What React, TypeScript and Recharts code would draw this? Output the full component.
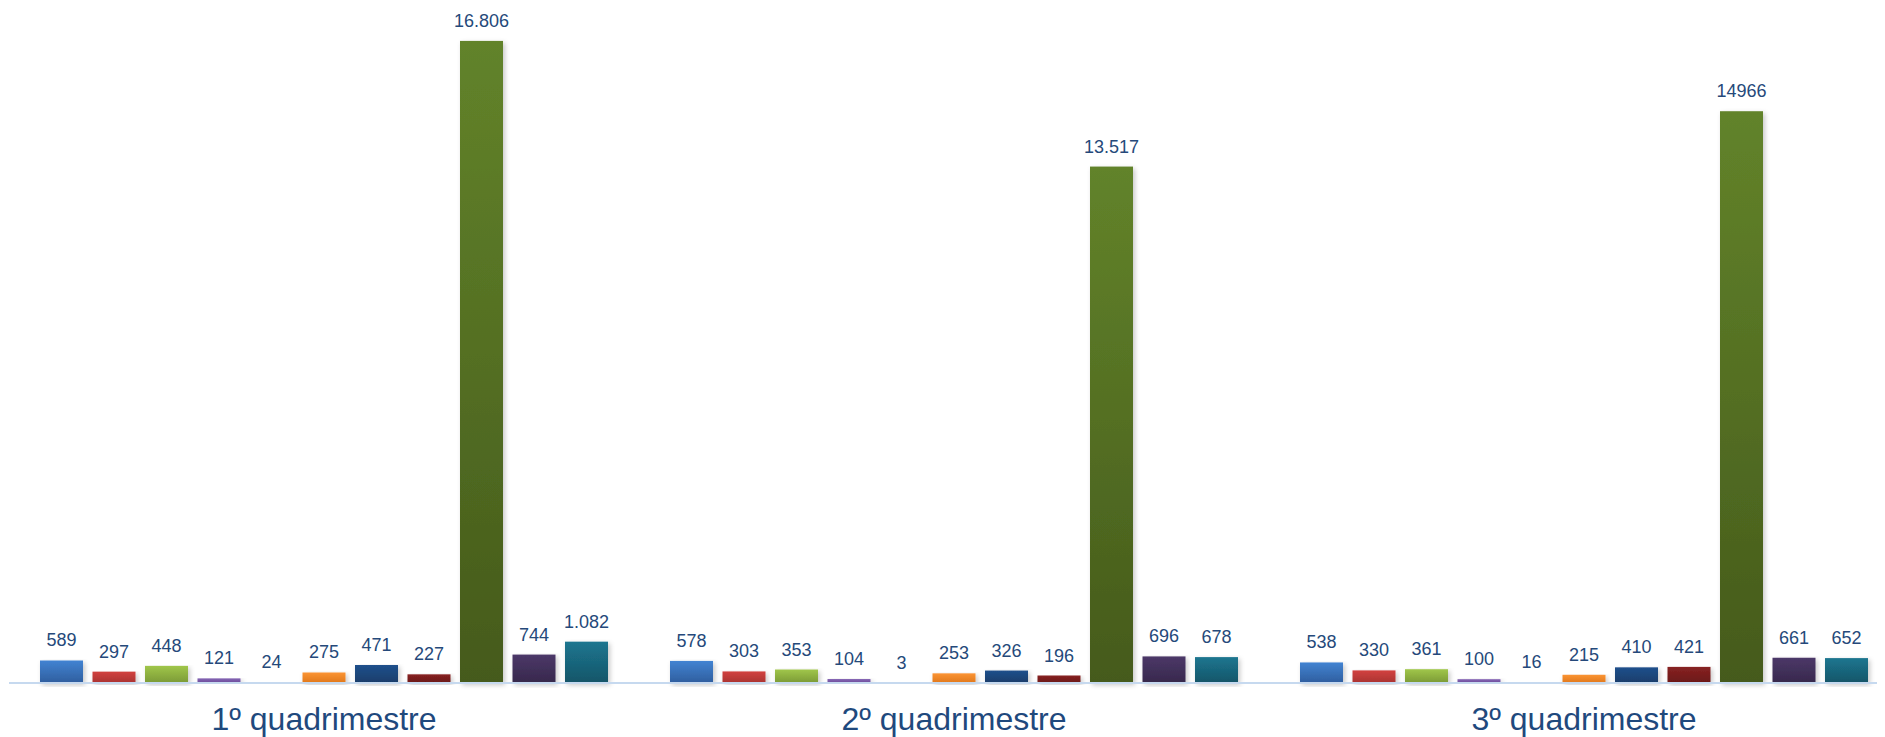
import React from "react";
import { BarChart, Bar, XAxis, YAxis, LabelList } from "recharts";

const categories = ["1º quadrimestre", "2º quadrimestre", "3º quadrimestre"];

const q1Values = [589, 297, 448, 121, 24, 275, 471, 227, 16806, 744, 1082];
const q2Values = [578, 303, 353, 104, 3, 253, 326, 196, 13517, 696, 678];
const q3Values = [538, 330, 361, 100, 16, 215, 410, 421, 14966, 661, 652];

const q1Labels = ["589", "297", "448", "121", "24", "275", "471", "227", "16.806", "744", "1.082"];
const q2Labels = ["578", "303", "353", "104", "3", "253", "326", "196", "13.517", "696", "678"];
const q3Labels = ["538", "330", "361", "100", "16", "215", "410", "421", "14966", "661", "652"];

const seriesTop = ["#4283d2", "#d2413f", "#a0c64a", "#8564b4", "#4bacc6", "#fb9433", "#20508c", "#882222", "#62832a", "#4c3868", "#1c7690"];
const seriesBottom = ["#2f5e9e", "#a93432", "#7b9a36", "#6a4b98", "#3a8aa0", "#e0781c", "#193d6a", "#6a1818", "#455a1b", "#37284c", "#165568"];

const valueRows = [q1Values, q2Values, q3Values];
const labelRows = [q1Labels, q2Labels, q3Labels];

const data = categories.map((name, i) => {
  const row: Record<string, any> = { name };
  valueRows[i].forEach((v, j) => {
    row["s" + j] = v;
    row["l" + j] = labelRows[i][j];
  });
  return row;
});

const FONT = '"Liberation Sans", Arial, sans-serif';

const CategoryTick = (props: any) => {
  const { x, y, payload } = props;
  return (
    <text
      x={x}
      y={y + 47}
      textAnchor="middle"
      fill="#1f497d"
      fontSize={32}
      fontFamily={FONT}
    >
      {payload.value}
    </text>
  );
};

const makeShape = (idx: number) => (props: any) => {
  const { x, y, width, height } = props;
  if (!height || height <= 0) return <g />;
  return (
    <rect
      x={x}
      y={y}
      width={width}
      height={height}
      fill={`url(#grad${idx})`}
      filter="url(#barShadow)"
    />
  );
};

export default function App() {
  return (
    <div style={{ width: 1877, height: 729, overflow: "hidden" }}>
      <style>{`html,body{overflow:hidden;}`}</style>
      <BarChart
        width={1891}
        height={729}
        data={data}
        margin={{ top: 25.5, right: 0, bottom: 0, left: 1 }}
        barSize={43}
        barGap={9.5}
      >
        <defs>
          {seriesTop.map((c, i) => (
            <linearGradient key={i} id={`grad${i}`} x1="0" y1="0" x2="0" y2="1">
              <stop offset="0%" stopColor={c} />
              <stop offset="100%" stopColor={seriesBottom[i]} />
            </linearGradient>
          ))}
          <filter id="barShadow" x="-20%" y="-5%" width="150%" height="120%">
            <feDropShadow dx="2" dy="2" stdDeviation="2.5" floodColor="#000" floodOpacity="0.22" />
          </filter>
        </defs>
        <XAxis
          dataKey="name"
          axisLine={{ stroke: "#c6d9ef", strokeWidth: 2 }}
          tickLine={false}
          tickSize={0}
          tickMargin={0}
          height={54}
          tick={<CategoryTick />}
          interval={0}
        />
        <YAxis hide domain={[0, 17000]} />
        {seriesTop.map((_, i) => (
          <Bar
            key={i}
            dataKey={"s" + i}
            isAnimationActive={false}
            fill={seriesTop[i]}
            shape={makeShape(i)}
          >
            <LabelList
              dataKey={"l" + i}
              position="top"
              offset={14}
              fill="#25497a"
              fontSize={18}
              fontFamily={FONT}
            />
          </Bar>
        ))}
      </BarChart>
    </div>
  );
}
